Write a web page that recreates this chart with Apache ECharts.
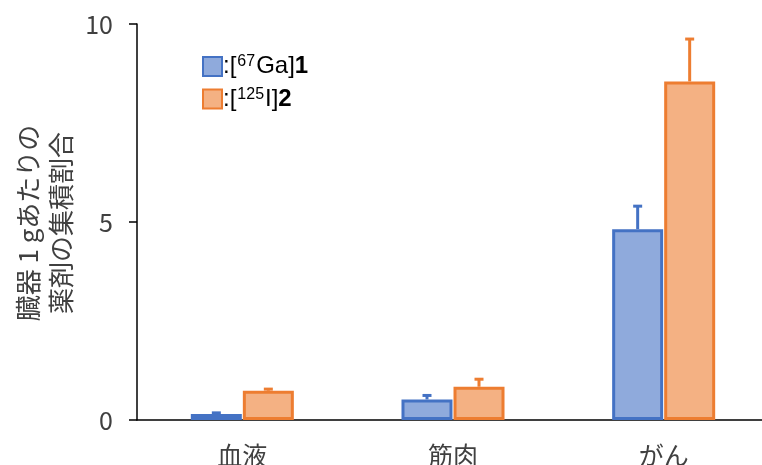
<!DOCTYPE html>
<html>
<head>
<meta charset="utf-8">
<script src="https://cdn.jsdelivr.net/npm/echarts@6/dist/echarts.min.js"></script>
<style>
  html, body { margin: 0; padding: 0; background: #fff; }
  #chart { width: 762px; height: 465px; }
</style>
</head>
<body>
<div id="chart"></div>
<script>
// organs
var categories = ['血液', '筋肉', 'がん'];
// [67Ga]1
var gaValues = [0.15, 0.52, 4.82];
var gaErrTop = [0.18, 0.62, 5.40];
// [125I]2
var iValues = [0.74, 0.84, 8.55];
var iErrTop = [0.78, 1.03, 9.62];
var yTicks = [0, 5, 10];
var yTitle = ['臓器 1 gあたりの', '薬剤の集積割合'];

var blueFill = '#8FAADC', blueLine = '#4472C4';
var orangeFill = '#F4B183', orangeLine = '#ED7D31';
var textColor = '#404040';
var jpFont = 'Noto Sans CJK JP';

var myChart = echarts.init(document.getElementById('chart'));

function errData(vals, tops) {
  return vals.map(function (v, i) { return [i, v, tops[i]]; });
}

function errRender(offset, color) {
  return function (params, api) {
    var i = api.value(0);
    var base = api.coord([i, api.value(1)]);
    var top = api.coord([i, api.value(2)]);
    var x = base[0] + offset;
    return {
      type: 'group',
      children: [
        { type: 'line', shape: { x1: x, y1: base[1], x2: x, y2: top[1] },
          style: { stroke: color, lineWidth: 3 } },
        { type: 'line', shape: { x1: x - 4.5, y1: top[1], x2: x + 4.5, y2: top[1] },
          style: { stroke: color, lineWidth: 3 } }
      ]
    };
  };
}

var legendRich = {
  a: { fontSize: 24, fontFamily: 'Liberation Sans', color: '#000' },
  sup: { fontSize: 16, fontFamily: 'Liberation Sans', color: '#000', verticalAlign: 'top', padding: [0, 1, 9, 1] },
  b: { fontSize: 24, fontFamily: 'Liberation Sans', fontWeight: 'bold', color: '#000' }
};

myChart.setOption({
  backgroundColor: '#fff',
  animation: false,
  grid: { left: 137, top: 24, width: 632, height: 396, outerBoundsMode: 'none' },
  legend: {
    left: 197, top: 49, orient: 'vertical', icon: 'rect',
    itemWidth: 19, itemHeight: 19, itemGap: 8,
    selectedMode: false,
    data: ['ga', 'i'],
    formatter: function (name) {
      return name === 'ga' ? '{a|:[}{sup|67}{a|Ga]}{b|1}' : '{a|:[}{sup|125}{a|I]}{b|2}';
    },
    textStyle: { rich: legendRich, padding: [0, 0, 0, -4] }
  },
  graphic: yTitle.map(function (t, k) {
    return {
      type: 'text', x: 28 + k * 33, y: 223, rotation: Math.PI / 2,
      style: { text: t, fontSize: 26, fontFamily: jpFont, fill: textColor,
               align: 'center', verticalAlign: 'middle' }
    };
  }),
  xAxis: {
    type: 'category',
    data: categories,
    axisLine: { lineStyle: { color: '#000', width: 1.5 } },
    axisTick: { show: false },
    axisLabel: { fontSize: 25, color: textColor, margin: 23, fontFamily: jpFont }
  },
  yAxis: {
    type: 'value',
    min: 0, max: 10, interval: 5,
    splitLine: { show: false },
    axisLine: { show: true, lineStyle: { color: '#000', width: 1.5 } },
    axisTick: { show: true, length: 8, lineStyle: { color: '#000', width: 1.5 } },
    axisLabel: {
      fontSize: 25, color: textColor, margin: 24, fontFamily: jpFont,
      formatter: function (v) { return yTicks.indexOf(v) >= 0 ? String(v) : ''; }
    }
  },
  series: [
    {
      name: 'ga', type: 'bar', data: gaValues, barWidth: 51, barGap: '2%',
      itemStyle: { color: blueFill, borderColor: blueLine, borderWidth: 3 }
    },
    {
      name: 'i', type: 'bar', data: iValues, barWidth: 51, barGap: '2%',
      itemStyle: { color: orangeFill, borderColor: orangeLine, borderWidth: 3 }
    },
    {
      type: 'custom', data: errData(gaValues, gaErrTop), z: 5,
      renderItem: errRender(-26, blueLine)
    },
    {
      type: 'custom', data: errData(iValues, iErrTop), z: 5,
      renderItem: errRender(26, orangeLine)
    }
  ]
});
</script>
</body>
</html>
